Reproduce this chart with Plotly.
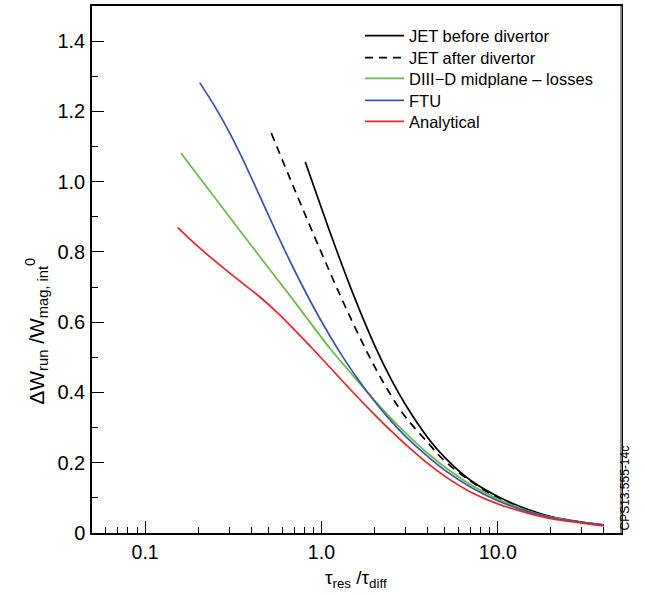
import plotly.graph_objects as go
import math

# ---- data ----
jet_before_x = [0.81, 1.0, 1.2, 1.5, 2.0, 2.5, 3.0, 4.0, 5.0, 7.0, 10, 15, 20, 30, 40]
jet_before_y = [1.056, 0.925, 0.814, 0.685, 0.535, 0.435, 0.365, 0.272, 0.215, 0.150, 0.104, 0.066, 0.047, 0.031, 0.023]

jet_after_x = [0.52, 0.7, 1.0, 1.3, 1.6, 2.0, 2.5, 3.0, 4.0, 5.0, 7.0, 10, 15, 20, 30, 40]
jet_after_y = [1.138, 0.981, 0.798, 0.668, 0.571, 0.474, 0.389, 0.330, 0.258, 0.205, 0.148, 0.100, 0.064, 0.046, 0.030, 0.022]

diiid_x = [0.16, 0.25, 0.45, 0.7, 1.12, 1.5, 2.0, 2.5, 3.0, 4.0, 5.0, 7.0, 10, 15, 20, 30, 40]
diiid_y = [1.081, 0.953, 0.785, 0.660, 0.525, 0.450, 0.378, 0.325, 0.285, 0.227, 0.188, 0.138, 0.097, 0.062, 0.045, 0.030, 0.022]

ftu_x = [0.204, 0.25, 0.3, 0.35, 0.45, 0.55, 0.7, 0.9, 1.12, 1.3, 1.6, 2.0, 2.5, 3.0, 4.0, 5.0, 7.0, 10, 15, 20, 30, 40]
ftu_y = [1.282, 1.212, 1.141, 1.074, 0.956, 0.860, 0.750, 0.644, 0.560, 0.507, 0.440, 0.375, 0.317, 0.275, 0.218, 0.179, 0.131, 0.092, 0.060, 0.044, 0.030, 0.022]

analytical_x = [0.153, 0.2, 0.3, 0.45, 0.58, 0.75, 0.92, 1.12, 1.5, 2.0, 2.5, 3.0, 4.0, 5.0, 7.0, 10, 15, 20, 30, 40]
analytical_y = [0.870, 0.815, 0.741, 0.671, 0.621, 0.564, 0.517, 0.471, 0.402, 0.337, 0.289, 0.252, 0.198, 0.162, 0.117, 0.083, 0.056, 0.041, 0.028, 0.020]

x_tickvals = [0.1, 1, 10]
x_ticktext = ["0.1", "1.0", "10.0"]
x_minor = [0.06, 0.07, 0.08, 0.09, 0.2, 0.3, 0.4, 0.5, 0.6, 0.7, 0.8, 0.9,
           2, 3, 4, 5, 6, 7, 8, 9, 20, 30, 40]
y_tickvals = [0, 0.2, 0.4, 0.6, 0.8, 1.0, 1.2, 1.4]
y_ticktext = ["0", "0.2", "0.4", "0.6", "0.8", "1.0", "1.2", "1.4"]
y_minor = [0.1, 0.3, 0.5, 0.7, 0.9, 1.1, 1.3]

FONT = "Liberation Sans, Arial, sans-serif"
W, H = 645, 595
ML, MR, MT, MB = 92, 24, 4, 62
PW, PH = W - ML - MR, H - MT - MB

def px_to_paper_x(px):
    return (px - ML) / PW

def px_to_paper_y(py):
    return (H - MB - py) / PH

fig = go.Figure()
series = [
    ("JET before divertor", jet_before_x, jet_before_y, "black", "solid"),
    ("JET after divertor", jet_after_x, jet_after_y, "black", "8px,6px"),
    ("DIII\u2212D midplane \u2013 losses", diiid_x, diiid_y, "#66bb44", "solid"),
    ("FTU", ftu_x, ftu_y, "#3a55a8", "solid"),
    ("Analytical", analytical_x, analytical_y, "#e8242a", "solid"),
]
legend_rows = [34, 56, 77, 99, 120]
layout_legends = {}
for i, (name, xs, ys, col, dash) in enumerate(series):
    lname = "legend" if i == 0 else f"legend{i+1}"
    fig.add_trace(go.Scatter(x=xs, y=ys, mode="lines", name=name, legend=lname,
                             line=dict(color=col, width=1.7, dash=dash,
                                       shape="spline", smoothing=1.0)))
    layout_legends[lname] = dict(
        x=px_to_paper_x(360), y=px_to_paper_y(legend_rows[i]),
        xanchor="left", yanchor="middle",
        font=dict(size=16.5, family=FONT, color="black"),
        bgcolor="rgba(0,0,0,0)", borderwidth=0, itemwidth=39,
    )

fig.update_layout(
    width=W, height=H,
    margin=dict(l=ML, r=MR, t=MT, b=MB),
    paper_bgcolor="white", plot_bgcolor="white",
    font=dict(family=FONT, color="black"),
    showlegend=True,
    **layout_legends,
)
fig.update_xaxes(
    type="log", range=[math.log10(0.05), math.log10(50)],
    showgrid=False, zeroline=False,
    showline=True, linecolor="black", linewidth=1.5, mirror=True,
    tickmode="array", tickvals=x_tickvals, ticktext=x_ticktext,
    ticks="inside", ticklen=12, tickwidth=1, tickcolor="black",
    tickfont=dict(size=19.5, family=FONT), ticklabelstandoff=1,
    minor=dict(tickmode="array", tickvals=x_minor, ticks="inside", ticklen=6,
               tickwidth=1, tickcolor="black", showgrid=False),
)
fig.update_yaxes(
    range=[0, 1.5],
    showgrid=False, zeroline=False,
    showline=True, linecolor="black", linewidth=1.5, mirror=True,
    tickmode="array", tickvals=y_tickvals, ticktext=y_ticktext,
    ticks="inside", ticklen=12, tickwidth=1, tickcolor="black",
    tickfont=dict(size=20, family=FONT), ticklabelstandoff=1,
    minor=dict(tickmode="array", tickvals=y_minor, ticks="inside", ticklen=6,
               tickwidth=1, tickcolor="black", showgrid=False),
)

# right border grey as in reference
fig.add_shape(type="line", xref="paper", yref="paper", x0=1, x1=1, y0=0, y1=1,
              line=dict(color="#888888", width=2))

# axis titles
fig.add_annotation(xref="paper", yref="paper", x=px_to_paper_x(356), y=px_to_paper_y(593),
                   xanchor="center", yanchor="bottom",
                   text="\u03c4<sub>res</sub> /\u03c4<sub>diff</sub>", showarrow=False,
                   font=dict(size=19, family=FONT))
fig.add_annotation(xref="paper", yref="paper", x=px_to_paper_x(37), y=px_to_paper_y(331),
                   xanchor="center", yanchor="middle", textangle=-90,
                   text="\u0394W<sub>run</sub> /W<sub>mag, int</sub><sup>0</sup>", showarrow=False,
                   font=dict(size=21, family=FONT))
fig.add_annotation(xref="paper", yref="paper", x=1.0, y=0.0, xshift=12, yanchor="bottom",
                   textangle=-90, text="CPS13.555-14c", showarrow=False,
                   font=dict(size=12, family=FONT))

fig.write_html("out.html")
